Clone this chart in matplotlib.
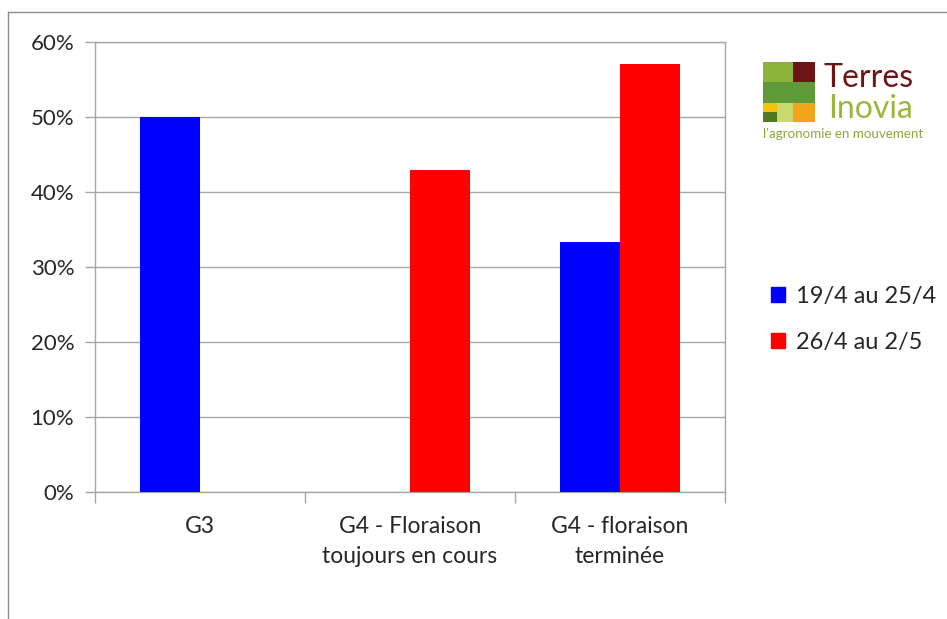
import matplotlib
matplotlib.use("Agg")
import matplotlib.pyplot as plt
from matplotlib.patches import Rectangle
from matplotlib.lines import Line2D
from matplotlib.ticker import FixedLocator, NullFormatter, FixedFormatter

categories = ["G3", "G4 - Floraison\ntoujours en cours", "G4 - floraison\nterminée"]
series_names = ["19/4 au 25/4", "26/4 au 2/5"]
series1 = [50.0, 0.0, 33.3]
series2 = [0.0, 42.9, 57.1]
colors = ["#0000ff", "#ff0000"]
yticks = [0, 10, 20, 30, 40, 50, 60]
ytick_labels = ["0%", "10%", "20%", "30%", "40%", "50%", "60%"]

W, H = 947, 619
fig = plt.figure(figsize=(W / 100, H / 100), dpi=100)
plt.rcParams['font.family'] = ['Lato', 'DejaVu Sans']

def fx(x):
    return x / W

def fy(y):
    return 1 - y / H

ax = fig.add_axes([fx(95), fy(492), fx(725) - fx(95), fy(42) - fy(492)])

bw = 0.286
off = 0.143
xs = range(len(categories))
ax.bar([i - off for i in xs], series1, width=bw, color=colors[0], label=series_names[0], zorder=3)
ax.bar([i + off for i in xs], series2, width=bw, color=colors[1], label=series_names[1], zorder=3)

ax.set_xlim(-0.5, 2.5)
ax.set_ylim(0, 60)
ax.set_yticks(yticks)
ax.set_yticklabels(ytick_labels)
ax.yaxis.grid(True, color="#a6a6a6", linewidth=1.0, zorder=0)

ax.xaxis.set_major_locator(FixedLocator([-0.5, 0.5, 1.5, 2.5]))
ax.xaxis.set_major_formatter(NullFormatter())
ax.xaxis.set_minor_locator(FixedLocator(list(xs)))
ax.xaxis.set_minor_formatter(FixedFormatter(categories))
ax.tick_params(axis='x', which='major', length=8, color="#a6a6a6", width=1)
ax.tick_params(axis='x', which='minor', length=0, pad=17, labelsize=16.5, labelcolor="#262626")
for t in ax.xaxis.get_minorticklabels():
    t.set_linespacing(1.55)
ax.tick_params(axis='y', length=7, color="#a6a6a6", width=1, pad=8, labelsize=16, labelcolor="#262626")

for s in ["left", "bottom", "right", "top"]:
    ax.spines[s].set_color("#a6a6a6")
    ax.spines[s].set_linewidth(1.0)

# legend
leg = fig.legend(handles=[Rectangle((0, 0), 1, 1, color=c) for c in colors], labels=series_names,
                 loc="upper left", bbox_to_anchor=(fx(750), fy(265)), frameon=False,
                 fontsize=17, handlelength=0.6, handleheight=0.6, handletextpad=0.45,
                 labelspacing=1.05, labelcolor="#262626")

# figure border
fig.add_artist(Line2D([fx(8), fx(8)], [fy(12), 0], color="#8c8c8c", linewidth=1.0))
fig.add_artist(Line2D([fx(8), 1], [fy(12), fy(12)], color="#8c8c8c", linewidth=1.0))

# logo
def prect(x0, y0, x1, y1, c):
    fig.add_artist(Rectangle((fx(x0), fy(y1)), fx(x1) - fx(x0), fy(y0) - fy(y1),
                             transform=fig.transFigure, color=c, linewidth=0))

prect(763, 62, 793, 82, "#8db33a")
prect(793, 62, 815, 82, "#6e1414")
prect(763, 82, 815, 103, "#5f9a38")
prect(763, 103, 777, 112, "#f2c30f")
prect(763, 112, 777, 122, "#4f7a22")
prect(777, 103, 793, 122, "#c9d96b")
prect(793, 103, 815, 122, "#f0a51b")
fig.text(fx(823), fy(78), "Terres", color="#6e1414", fontsize=23, va="center", ha="left",
         family=["Lato", "DejaVu Sans"])
fig.text(fx(913), fy(109), "Inovia", color="#9bb63c", fontsize=23, va="center", ha="right",
         family=["Lato", "DejaVu Sans"])
fig.text(fx(763), fy(134), "l'agronomie en mouvement", color="#8aa83a", fontsize=9.6,
         va="center", ha="left", family=["Lato", "DejaVu Sans"])

fig.savefig("out.png", dpi=100)
